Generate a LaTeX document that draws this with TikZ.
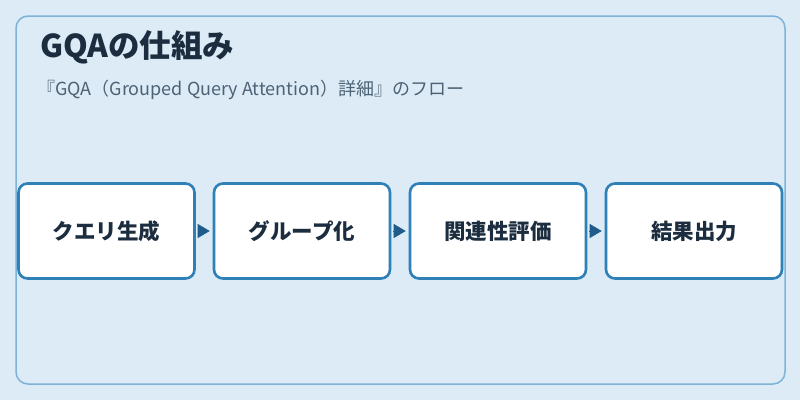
\documentclass[tikz,border=0pt]{standalone}
\usepackage{fontspec}
\setmainfont{Noto Sans CJK JP}
\usetikzlibrary{arrows.meta,positioning}
\definecolor{bgblue}{HTML}{DCEBF6}
\definecolor{frameblue}{HTML}{7DB3D7}
\definecolor{boxblue}{HTML}{2F80B7}
\definecolor{arrowblue}{HTML}{1F5C8A}
\definecolor{titleink}{HTML}{1B2D3F}
\definecolor{subink}{HTML}{4D6375}
\begin{document}
\begin{tikzpicture}[x=1pt,y=-1pt,
    stepbox/.style={draw=boxblue,line width=2.6pt,fill=white,rounded corners=9pt,
      minimum width=176pt,minimum height=95pt,inner sep=0pt,
      font=\fontsize{21.5}{26}\selectfont\bfseries,text=titleink},
    flow/.style={arrowblue,line width=0.8pt,shorten <=2pt,shorten >=3pt,
      -{Triangle[length=12pt,width=14pt]}}]
    \useasboundingbox (0,0) rectangle (800,400);
    \fill [bgblue] (0,0) rectangle (800,400);
    \draw [frameblue,line width=1.5pt,rounded corners=12pt] (16,16) rectangle (785,384);
    \node [anchor=base west,font=\fontsize{31.5}{36}\selectfont\bfseries,text=titleink,inner sep=0pt] (title) at (40,57) {GQAの仕組み};
    \node [anchor=base west,font=\fontsize{18}{21}\selectfont,text=subink,inner sep=0pt] (subtitle) at (37,95) {『GQA（Grouped Query Attention）詳細』のフロー};
    % steps
    \node [stepbox] (query) at (106.5,231) {クエリ生成};
    \node [stepbox] (group) at (302,231) {グループ化};
    \node [stepbox] (score) at (498,231) {関連性評価};
    \node [stepbox] (result) at (694,231) {結果出力};
    \draw [flow] (query) -- (group);
    \draw [flow] (group) -- (score);
    \draw [flow] (score) -- (result);
\end{tikzpicture}
\end{document}
